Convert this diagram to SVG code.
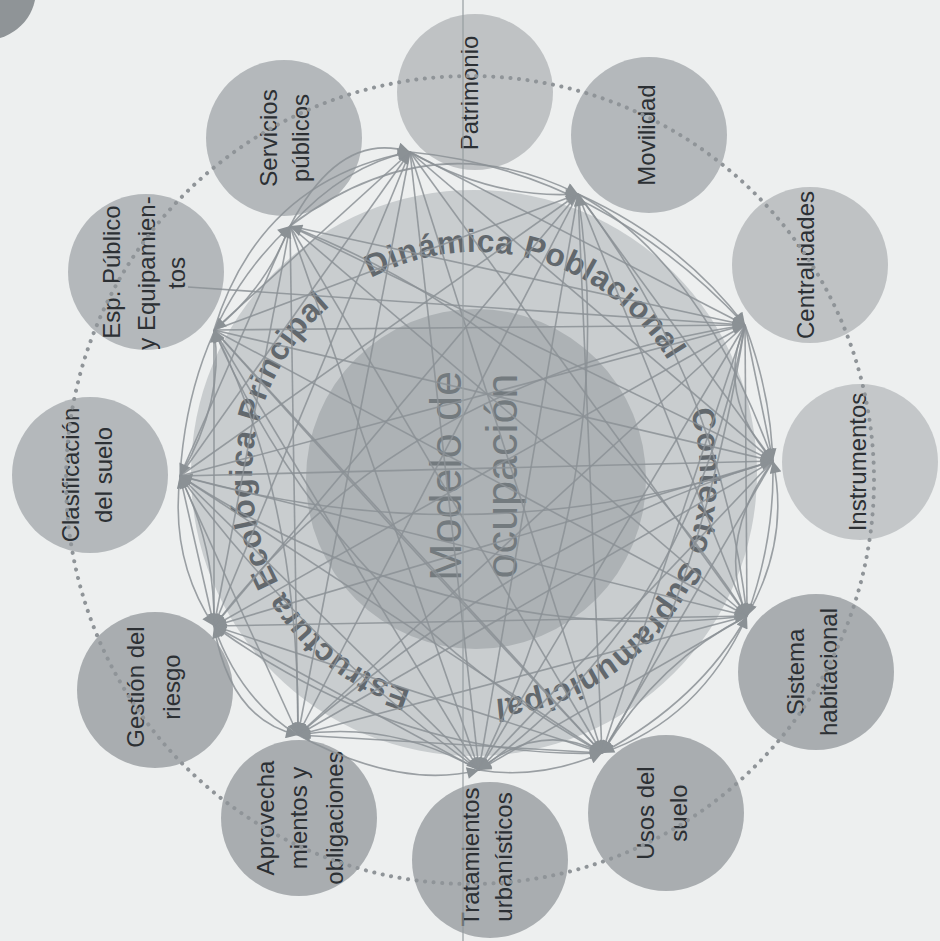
<svg xmlns="http://www.w3.org/2000/svg" width="940" height="941" viewBox="0 0 940 941">
<style>
.bg{fill:#edefef}
.n1{fill:#bfc2c4}.n2{fill:#b4b8bb}.n3{fill:#a9adb0}
.lbl{font-family:"Liberation Sans",Arial,sans-serif;font-size:24px;fill:#2c3034;text-anchor:middle}
.ring{font-family:"Liberation Sans",Arial,sans-serif;font-size:32px;font-weight:bold;fill:#62686d;letter-spacing:0.5px}
.core{font-family:"Liberation Sans",Arial,sans-serif;font-size:45px;fill:#737a7e;text-anchor:middle}
.c{fill:none;stroke:#8b9195;stroke-width:1.6;stroke-opacity:0.85;marker-end:url(#ah)}
.dots{fill:none;stroke:#8f9498;stroke-width:4;stroke-linecap:round;stroke-dasharray:0.1 8.5}
</style>
<defs>
<marker id="ah" viewBox="0 0 10 10" refX="10" refY="5" markerWidth="14" markerHeight="12" markerUnits="userSpaceOnUse" orient="auto"><path d="M0,0 L10,5 L0,10 z" fill="#8b9195"/></marker>
<path id="ringpath" d="M476,700 A224,224 0 1 1 476,252 A224,224 0 1 1 476,700"/>
</defs>
<rect class="bg" x="0" y="0" width="940" height="941"/>
<circle cx="-14" cy="-10" r="50" fill="#8f9497"/>
<g id="layers">
<circle cx="474" cy="473" r="283" fill="#c9cdcf"/>
<circle cx="476" cy="479" r="170" fill="#adb2b5"/>
</g>
<g id="ring-labels">
<text class="ring"><textPath href="#ringpath" startOffset="66">Estructura Ecológica Principal</textPath></text>
<text class="ring"><textPath href="#ringpath" startOffset="594">Dinámica Poblacional</textPath></text>
<text class="ring"><textPath href="#ringpath" startOffset="989">Contexto Supramunicipal</textPath></text>
</g>
<g id="core-label">
<text class="core" transform="translate(461,476) rotate(-90)">Modelo de</text>
<text class="core" transform="translate(517,476) rotate(-90)">ocupación</text>
</g>
<g id="node-patrimonio"><circle class="n1" cx="475" cy="92" r="78"/><text class="lbl" transform="translate(478,93) rotate(-90)">Patrimonio</text></g>
<g id="node-movilidad"><circle class="n2" cx="649" cy="135" r="78"/><text class="lbl" transform="translate(655,135) rotate(-90)">Movilidad</text></g>
<g id="node-centralidades"><circle class="n1" cx="810" cy="265" r="78"/><text class="lbl" transform="translate(814,265) rotate(-90)">Centralidades</text></g>
<g id="node-instrumentos"><circle class="n1" cx="860" cy="462" r="78" style="fill:#c4c7c9"/><text class="lbl" transform="translate(866,462) rotate(-90)">Instrumentos</text></g>
<g id="node-sistema"><circle class="n3" cx="816" cy="672" r="78"/><text class="lbl" transform="translate(804,672) rotate(-90)">Sistema</text><text class="lbl" transform="translate(837,672) rotate(-90)">habitacional</text></g>
<g id="node-usos"><circle class="n3" cx="666" cy="813" r="78"/><text class="lbl" transform="translate(654,813) rotate(-90)">Usos del</text><text class="lbl" transform="translate(687,813) rotate(-90)">suelo</text></g>
<g id="node-tratamientos"><circle class="n3" cx="490" cy="860" r="78"/><text class="lbl" transform="translate(479,857) rotate(-90)">Tratamientos</text><text class="lbl" transform="translate(512,857) rotate(-90)">urbanísticos</text></g>
<g id="node-aprovechamientos"><circle class="n3" cx="299" cy="818" r="78"/><text class="lbl" transform="translate(274,818) rotate(-90)">Aprovecha</text><text class="lbl" transform="translate(307,818) rotate(-90)">mientos y</text><text class="lbl" transform="translate(343,818) rotate(-90)">obligaciones</text></g>
<g id="node-gestion"><circle class="n3" cx="155" cy="690" r="78"/><text class="lbl" transform="translate(144,687) rotate(-90)">Gestión del</text><text class="lbl" transform="translate(180,687) rotate(-90)">riesgo</text></g>
<g id="node-clasificacion"><circle class="n2" cx="90" cy="475" r="78"/><text class="lbl" transform="translate(79,475) rotate(-90)">Clasificación</text><text class="lbl" transform="translate(112,475) rotate(-90)">del suelo</text></g>
<g id="node-esp"><circle class="n2" cx="146" cy="272" r="78"/><text class="lbl" transform="translate(120,272) rotate(-90)">Esp. Público</text><text class="lbl" transform="translate(155,273) rotate(-90)">y Equipamien-</text><text class="lbl" transform="translate(185,273) rotate(-90)">tos</text></g>
<g id="node-servicios"><circle class="n2" cx="284" cy="138" r="78"/><text class="lbl" transform="translate(277,138) rotate(-90)">Servicios</text><text class="lbl" transform="translate(309,138) rotate(-90)">públicos</text></g>
<circle class="dots" cx="470" cy="480" r="404"/>
<g id="connectors">
<path class="c" d="M180,476 L410,152"/>
<path class="c" d="M180,476 L578,194"/>
<path class="c" d="M180,476 L745,325"/>
<path class="c" d="M180,476 L773,461"/>
<path class="c" d="M180,476 L747,616"/>
<path class="c" d="M180,476 L602,753"/>
<path class="c" d="M180,476 L479,770"/>
<path class="c" d="M180,476 L298,735"/>
<path class="c" d="M214,330 L578,194"/>
<path class="c" d="M214,330 L745,325"/>
<path class="c" d="M214,330 L773,461"/>
<path class="c" d="M214,330 L747,616"/>
<path class="c" d="M214,330 L602,753"/>
<path class="c" d="M214,330 L479,770"/>
<path class="c" d="M214,330 L214,626"/>
<path class="c" d="M290,226 L745,325"/>
<path class="c" d="M290,226 L773,461"/>
<path class="c" d="M290,226 L747,616"/>
<path class="c" d="M290,226 L602,753"/>
<path class="c" d="M290,226 L479,770"/>
<path class="c" d="M290,226 L298,735"/>
<path class="c" d="M290,226 L214,626"/>
<path class="c" d="M290,226 L180,476"/>
<path class="c" d="M410,152 L745,325"/>
<path class="c" d="M410,152 L773,461"/>
<path class="c" d="M410,152 L747,616"/>
<path class="c" d="M410,152 L602,753"/>
<path class="c" d="M410,152 L479,770"/>
<path class="c" d="M410,152 L298,735"/>
<path class="c" d="M410,152 L214,626"/>
<path class="c" d="M410,152 L214,330"/>
<path class="c" d="M578,194 L773,461"/>
<path class="c" d="M578,194 L747,616"/>
<path class="c" d="M578,194 L602,753"/>
<path class="c" d="M578,194 L479,770"/>
<path class="c" d="M578,194 L298,735"/>
<path class="c" d="M578,194 L214,626"/>
<path class="c" d="M745,325 L747,616"/>
<path class="c" d="M745,325 L602,753"/>
<path class="c" d="M745,325 L479,770"/>
<path class="c" d="M745,325 L298,735"/>
<path class="c" d="M745,325 L214,626"/>
<path class="c" d="M773,461 L602,753"/>
<path class="c" d="M773,461 L479,770"/>
<path class="c" d="M773,461 L298,735"/>
<path class="c" d="M773,461 L214,626"/>
<path class="c" d="M747,616 L479,770"/>
<path class="c" d="M747,616 L298,735"/>
<path class="c" d="M747,616 L214,626"/>
<path class="c" d="M602,753 L298,735"/>
<path class="c" d="M602,753 L214,626"/>
<path class="c" d="M479,770 L214,626"/>
<path class="c" d="M214,626 L180,476"/>
<path class="c" d="M745,325 L773,461"/>
<path class="c" d="M188,287 L745,325"/>
<path class="c" d="M745,325 Q715,395 773,461"/>
<path class="c" d="M773,461 Q715,540 747,616"/>
<path class="c" d="M747,616 Q660,660 602,753"/>
<path class="c" d="M602,753 Q540,720 479,770"/>
<path class="c" d="M479,770 Q390,720 298,735"/>
<path class="c" d="M298,735 Q240,700 214,626"/>
<path class="c" d="M214,626 Q215,545 180,476"/>
<path class="c" d="M180,476 Q225,400 214,330"/>
<path class="c" d="M214,330 Q265,290 290,226"/>
<path class="c" d="M290,226 Q345,165 410,152"/>
<path class="c" d="M410,152 Q495,200 578,194"/>
<path class="c" d="M578,194 Q680,240 745,325"/>
<path class="c" d="M745,325 Q700,600 602,753"/>
<path class="c" d="M745,325 Q800,470 747,616"/>
<path class="c" d="M578,194 Q720,380 747,616"/>
<path class="c" d="M578,194 Q700,260 773,461"/>
<path class="c" d="M410,152 Q600,170 745,325"/>
<path class="c" d="M290,226 Q430,120 578,194"/>
<path class="c" d="M290,226 Q340,130 410,152"/>
<path class="c" d="M214,330 Q260,180 410,152"/>
<path class="c" d="M180,476 Q190,320 290,226"/>
<path class="c" d="M180,476 Q170,560 214,626"/>
<path class="c" d="M214,626 Q230,720 298,735"/>
<path class="c" d="M298,735 Q400,790 479,770"/>
<path class="c" d="M479,770 Q540,780 602,753"/>
<path class="c" d="M602,753 Q700,720 747,616"/>
<path class="c" d="M747,616 Q790,540 773,461"/>
<path class="c" d="M180,476 Q450,650 747,616"/>
<path class="c" d="M214,330 Q420,560 602,753"/>
<path class="c" d="M214,626 Q400,380 745,325"/>
<path class="c" d="M298,735 Q540,530 773,461"/>
<path class="c" d="M479,770 Q620,480 578,194"/>
<path class="c" d="M602,753 Q330,600 214,330"/>
<path class="c" d="M747,616 Q560,330 290,226"/>
<path class="c" d="M773,461 Q480,560 180,476"/>
<path class="c" d="M479,770 Q300,640 180,476"/>
<path class="c" d="M298,735 Q300,500 214,330"/>
<path class="c" d="M747,616 Q700,700 602,753"/>
<path class="c" d="M745,325 Q690,620 479,770"/>
<path class="c" d="M214,626 Q400,760 602,753"/>
</g>
<line x1="463" y1="0" x2="463" y2="941" stroke="#969ca0" stroke-width="2" stroke-opacity="0.6"/>
</svg>
